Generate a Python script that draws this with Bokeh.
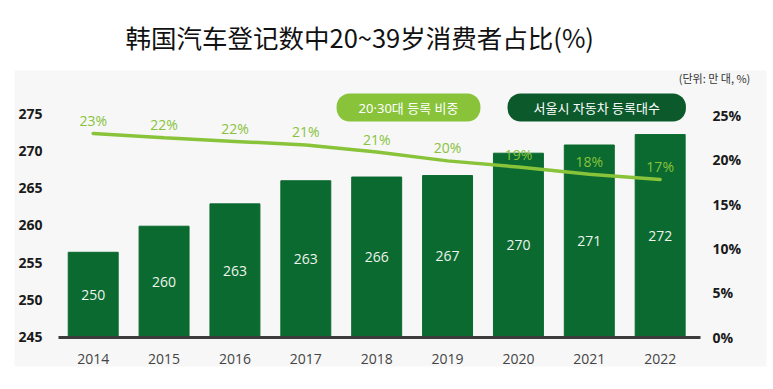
from bokeh.plotting import figure
from bokeh.models import (Range1d, LinearAxis, FixedTicker, PrintfTickFormatter,
                          Label, ColumnDataSource)
from bokeh.core.properties import value
from bokeh.embed import file_html
from bokeh.resources import INLINE

# ---- data ----
years = [2014, 2015, 2016, 2017, 2018, 2019, 2020, 2021, 2022]
registered = [256.4, 259.9, 262.9, 266.0, 266.5, 266.7, 269.7, 270.8, 272.2]
registered_labels = ["250", "260", "263", "263", "266", "267", "270", "271", "272"]
share_pct = [23.0, 22.5, 22.1, 21.7, 20.9, 19.9, 19.2, 18.4, 17.8]
share_labels = ["23%", "22%", "22%", "21%", "21%", "20%", "19%", "18%", "17%"]
left_ticks = [245, 250, 255, 260, 265, 270, 275]
right_ticks = [0, 5, 10, 15, 20, 25]
title_text = "韩国汽车登记数中20~39岁消费者占比(%)"
legend_share = "20·30대 등록 비중"
legend_count = "서울시 자동차 등록대수"
unit_text = "(단위: 만 대, %)"

BASE = 245
BAR = "#0a6a2f"
LIGHT = "#88c33a"
DARK = "#0c5a2c"
BG = "#f7f7f7"
NUM_FONT = "Open Sans"
KR_FONT = "Noto Sans CJK KR"

# ranges: the plotting frame is the whole grey panel
x0, x1 = 2012.8895, 2023.5005
x_left_axis, x_right_axis = 2013.51, 2022.569

bar_mid = [(BASE + v) / 2 for v in registered]
src = ColumnDataSource(dict(x=years, top=registered, mid=bar_mid, lab=registered_labels,
                            pct=share_pct, plab=share_labels))

p = figure(width=773, height=389, output_backend="svg", toolbar_location=None,
           x_range=Range1d(x0, x1), y_range=Range1d(241.07, 280.8),
           x_axis_location=None, y_axis_location=None,
           min_border_left=14, min_border_right=7, min_border_top=70, min_border_bottom=23,
           background_fill_color=BG, border_fill_color="white")
p.outline_line_color = None
p.grid.visible = False
p.extra_y_ranges = {"pct": Range1d(-3.307, 30.1)}

p.title.text = title_text
p.title.align = "left"
p.title.offset = 111
p.title.standoff = 31
p.title.text_font = "Noto Sans CJK SC"
p.title.text_font_size = "25.5px"
p.title.text_font_style = "normal"
p.title.text_color = "#111111"

p.vbar(x="x", top="top", bottom=BASE, width=0.705, color=BAR, source=src)
p.text(x="x", y="mid", text="lab", source=src, text_font=value(NUM_FONT),
       text_font_size="14px", text_color="#eef4ee", text_align="center",
       text_baseline="middle")
p.line(x="x", y="pct", source=src, y_range_name="pct", line_width=3.5,
       line_color=LIGHT, line_cap="round")
p.text(x="x", y="pct", text="plab", source=src, y_range_name="pct", y_offset=-13,
       text_font=value(NUM_FONT), text_font_size="14px", text_color=LIGHT,
       text_align="center", text_baseline="middle")

# axes, drawn at fixed positions inside the grey panel
xa = LinearAxis(ticker=FixedTicker(ticks=years), fixed_location=BASE,
                bounds=(x_left_axis, x_right_axis))
xa.axis_line_color = "#3c3c3c"
xa.axis_line_width = 3
xa.major_tick_line_color = None
xa.minor_tick_line_color = None
xa.major_label_standoff = 11
xa.major_label_text_font = NUM_FONT
xa.major_label_text_font_size = "14px"
xa.major_label_text_color = "#444444"
p.add_layout(xa, "below")

ya = LinearAxis(ticker=FixedTicker(ticks=left_ticks), fixed_location=x_left_axis)
ya.axis_line_color = None
ya.major_tick_line_color = None
ya.minor_tick_line_color = None
ya.major_label_standoff = 10
ya.major_label_text_font = NUM_FONT
ya.major_label_text_font_size = "14px"
ya.major_label_text_font_style = "bold"
ya.major_label_text_color = "#1a1a1a"
p.add_layout(ya, "left")

ra = LinearAxis(y_range_name="pct", ticker=FixedTicker(ticks=right_ticks),
                formatter=PrintfTickFormatter(format="%d%%"), fixed_location=x_right_axis)
ra.axis_line_color = None
ra.major_tick_line_color = None
ra.minor_tick_line_color = None
ra.major_label_standoff = 6
ra.major_label_text_font = NUM_FONT
ra.major_label_text_font_size = "14px"
ra.major_label_text_font_style = "bold"
ra.major_label_text_color = "#1a1a1a"
p.add_layout(ra, "right")

# legend pills and unit note (data coordinates)
for txt, cx, col, pad in [(legend_share, 2018.449, LIGHT, 22), (legend_count, 2021.105, DARK, 26)]:
    p.add_layout(Label(x=cx, y=275.83, text=txt,
                       text_font="Noto Sans, Noto Sans CJK KR", text_font_size="13px",
                       text_color="white", text_align="center", text_baseline="middle",
                       background_fill_color=col, border_radius=13,
                       padding=(pad, pad, 5, 5)))

p.add_layout(Label(x=2022.262, y=279.73, text=unit_text, text_font=KR_FONT,
                   text_font_size="11px", text_color="#333333", text_align="left",
                   text_baseline="middle"))

open("out.html", "w").write(file_html(p, INLINE))
